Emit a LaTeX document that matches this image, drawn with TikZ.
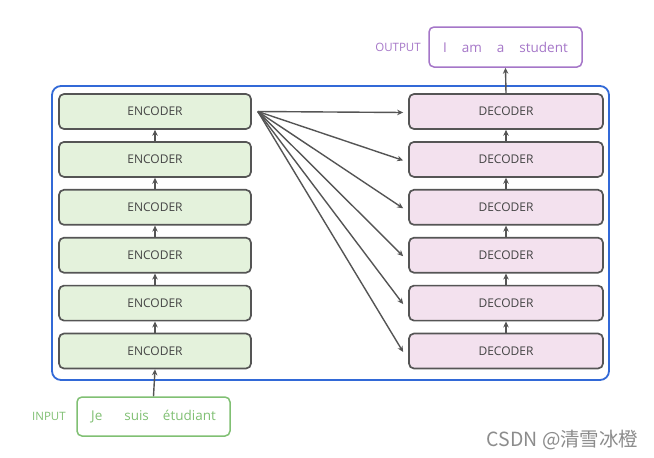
\documentclass[tikz,border=0pt]{standalone}
\usepackage{fontspec}
\setmainfont{Open Sans}
\newfontfamily\cjk{Noto Sans CJK SC}
\usepackage{tikz}
\usetikzlibrary{arrows.meta, positioning}
\definecolor{encfill}{RGB}{228,242,220}
\definecolor{decfill}{RGB}{243,225,238}
\definecolor{boxline}{RGB}{85,85,85}
\definecolor{stackblue}{RGB}{50,105,215}
\definecolor{outpurple}{RGB}{165,118,200}
\definecolor{ingreen}{RGB}{128,192,115}
\tikzset{
>={Stealth[length=6pt,width=5.5pt]}, % small solid heads
node distance=11.2pt, % gap between stacked boxes
layerbox/.style={draw=boxline, line width=1.7pt, rounded corners=5pt,
  minimum width=192pt, minimum height=35pt, text=boxline!80!black,
  font=\fontsize{12}{14}\selectfont},
encbox/.style={layerbox, fill=encfill},
decbox/.style={layerbox, fill=decfill, minimum width=194pt},
flow/.style={->, draw=boxline, line width=1.4pt},
}

\begin{document}
\begin{tikzpicture}[x=1pt,y=-1pt]
  \useasboundingbox (0,0) rectangle (654,458);
  \fill[white] (0,0) rectangle (654,458);
  % the blue frame round both stacks
  \draw[stackblue, line width=1.8pt, rounded corners=9pt] (52,86) rectangle (609,380);

  \node[encbox] (e1) at (155,351) {ENCODER};
  \node[encbox, above=of e1] (e2) {ENCODER};
  \node[encbox, above=of e2] (e3) {ENCODER};
  \node[encbox, above=of e3] (e4) {ENCODER};
  \node[encbox, above=of e4] (e5) {ENCODER};
  \node[encbox, above=of e5] (e6) {ENCODER};

  \node[decbox] (d1) at (506,351) {DECODER};
  \node[decbox, above=of d1] (d2) {DECODER};
  \node[decbox, above=of d2] (d3) {DECODER};
  \node[decbox, above=of d3] (d4) {DECODER};
  \node[decbox, above=of d4] (d5) {DECODER};
  \node[decbox, above=of d5] (d6) {DECODER};

  \node[draw=outpurple, line width=1.5pt, rounded corners=5pt, text=outpurple,
    minimum width=153pt, minimum height=40pt, font=\fontsize{13.5}{15}\selectfont]
    (out) at (505.5,47) {I\hspace{15pt}am\hspace{15pt}a\hspace{15pt}student};
  \node[text=outpurple, left=4pt of out, font=\fontsize{11.5}{13}\selectfont] (outlbl) {OUTPUT};

  \node[draw=ingreen, line width=1.5pt, rounded corners=5pt, text=ingreen,
    minimum width=153pt, minimum height=39pt, font=\fontsize{13.5}{15}\selectfont]
    (in) at (153.5,416.5) {Je\hspace{22pt}suis\hspace{14pt}étudiant};
  \node[text=ingreen, left=7pt of in, font=\fontsize{11.5}{13}\selectfont] (inlbl) {INPUT};

  \foreach \i/\j in {1/2,2/3,3/4,4/5,5/6} {
    \draw[flow] (e\i.north) -- (e\j.south);
    \draw[flow] (d\i.north) -- (d\j.south);
  }
  \draw[flow] (in.north) -- (e1.south);
  \draw[flow] (d6.north) -- (out.south);

  % encoder output fanned out to every decoder
  \coordinate (fan) at ([xshift=6pt]e6.east);
  \foreach \k in {1,...,6}
    \draw[flow] (fan) -- ([xshift=-5pt,yshift=-1pt]d\k.west);

  \node[text=black!45, font=\cjk\fontsize{19.5}{21}\selectfont, anchor=east] (mark) at (642,440) {CSDN @清雪冰橙};
\end{tikzpicture}
\end{document}
